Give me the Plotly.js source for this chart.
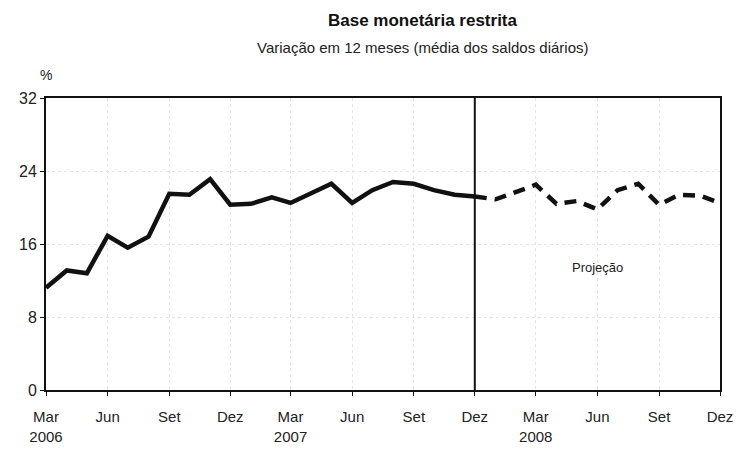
<!DOCTYPE html>
<html><head><meta charset="utf-8">
<script src="https://cdn.plot.ly/plotly-3.0.1.min.js"></script>
<style>body{margin:0;background:#fff}</style>
</head><body>
<div id="chart" style="width:739px;height:452px"></div>
<script>
const histDates = ["2006-03-01","2006-04-01","2006-05-01","2006-06-01","2006-07-01","2006-08-01","2006-09-01","2006-10-01","2006-11-01","2006-12-01","2007-01-01","2007-02-01","2007-03-01","2007-04-01","2007-05-01","2007-06-01","2007-07-01","2007-08-01","2007-09-01","2007-10-01","2007-11-01","2007-12-01"];
const histValues = [11.2,13.1,12.8,16.9,15.6,16.8,21.5,21.4,23.1,20.3,20.4,21.1,20.5,21.6,22.6,20.5,21.9,22.8,22.6,21.9,21.4,21.2];
const projDates = ["2007-12-01","2008-01-01","2008-02-01","2008-03-01","2008-04-01","2008-05-01","2008-06-01","2008-07-01","2008-08-01","2008-09-01","2008-10-01","2008-11-01","2008-12-01"];
const projValues = [21.2,20.9,21.7,22.5,20.4,20.7,19.8,21.9,22.6,20.3,21.4,21.3,20.5];
const tickDates = ["2006-03-01","2006-06-01","2006-09-01","2006-12-01","2007-03-01","2007-06-01","2007-09-01","2007-12-01","2008-03-01","2008-06-01","2008-09-01","2008-12-01"];
const tickLabels = ["Mar<br>2006","Jun","Set","Dez","Mar<br>2007","Jun","Set","Dez","Mar<br>2008","Jun","Set","Dez"];
const yTicks = [0,8,16,24,32];

const traces = [
  {x: histDates, y: histValues, type:'scatter', mode:'lines', line:{color:'#111', width:4.5}, hoverinfo:'skip'},
  {x: projDates, y: projValues, type:'scatter', mode:'lines', line:{color:'#111', width:4.5, dash:'12px,8px'}, hoverinfo:'skip'}
];
const layout = {
  width:739, height:452,
  margin:{l:46, r:19, t:98, b:62},
  paper_bgcolor:'#fff', plot_bgcolor:'#fff',
  showlegend:false,
  font:{family:'Liberation Sans, Arial, sans-serif', color:'#222', size:14},
  xaxis:{type:'date', range:['2006-03-01','2008-12-01'], tickvals:tickDates, ticktext:tickLabels,
    showgrid:true, gridcolor:'#e6e6e6', griddash:'dot', gridwidth:1,
    showline:true, linecolor:'#111', linewidth:2, mirror:true,
    ticks:'outside', ticklen:4, tickcolor:'#111', ticklabelstandoff:8, tickfont:{size:15, color:'#222'}, zeroline:false},
  yaxis:{range:[0,32], tickvals:yTicks, showgrid:true, gridcolor:'#e6e6e6', griddash:'dot',
    showline:true, linecolor:'#111', linewidth:2, mirror:true,
    ticks:'outside', ticklen:4, tickcolor:'#111', tickfont:{size:16, color:'#222'}, zeroline:false},
  shapes:[{type:'line', xref:'x', yref:'paper', x0:'2007-12-01', x1:'2007-12-01', y0:0, y1:1, line:{color:'#111', width:2}}],
  annotations:[
    {text:'<b>Base monetária restrita</b>', xref:'paper', yref:'paper', x:0.56, y:1, yshift:78, xanchor:'center', yanchor:'middle', showarrow:false, font:{size:17, color:'#111'}},
    {text:'Variação em 12 meses (média dos saldos diários)', xref:'paper', yref:'paper', x:0.56, y:1, yshift:51, xanchor:'center', yanchor:'middle', showarrow:false, font:{size:15, color:'#222'}},
    {text:'%', xref:'paper', yref:'paper', x:0, y:1, yshift:23, xanchor:'center', yanchor:'middle', showarrow:false, font:{size:14, color:'#222'}},
    {text:'Projeção', xref:'x', yref:'y', x:'2008-06-01', y:13.4, xanchor:'center', yanchor:'middle', showarrow:false, font:{size:13, color:'#222'}}
  ]
};
Plotly.newPlot('chart', traces, layout, {displayModeBar:false, staticPlot:true});
</script>
</body></html>
